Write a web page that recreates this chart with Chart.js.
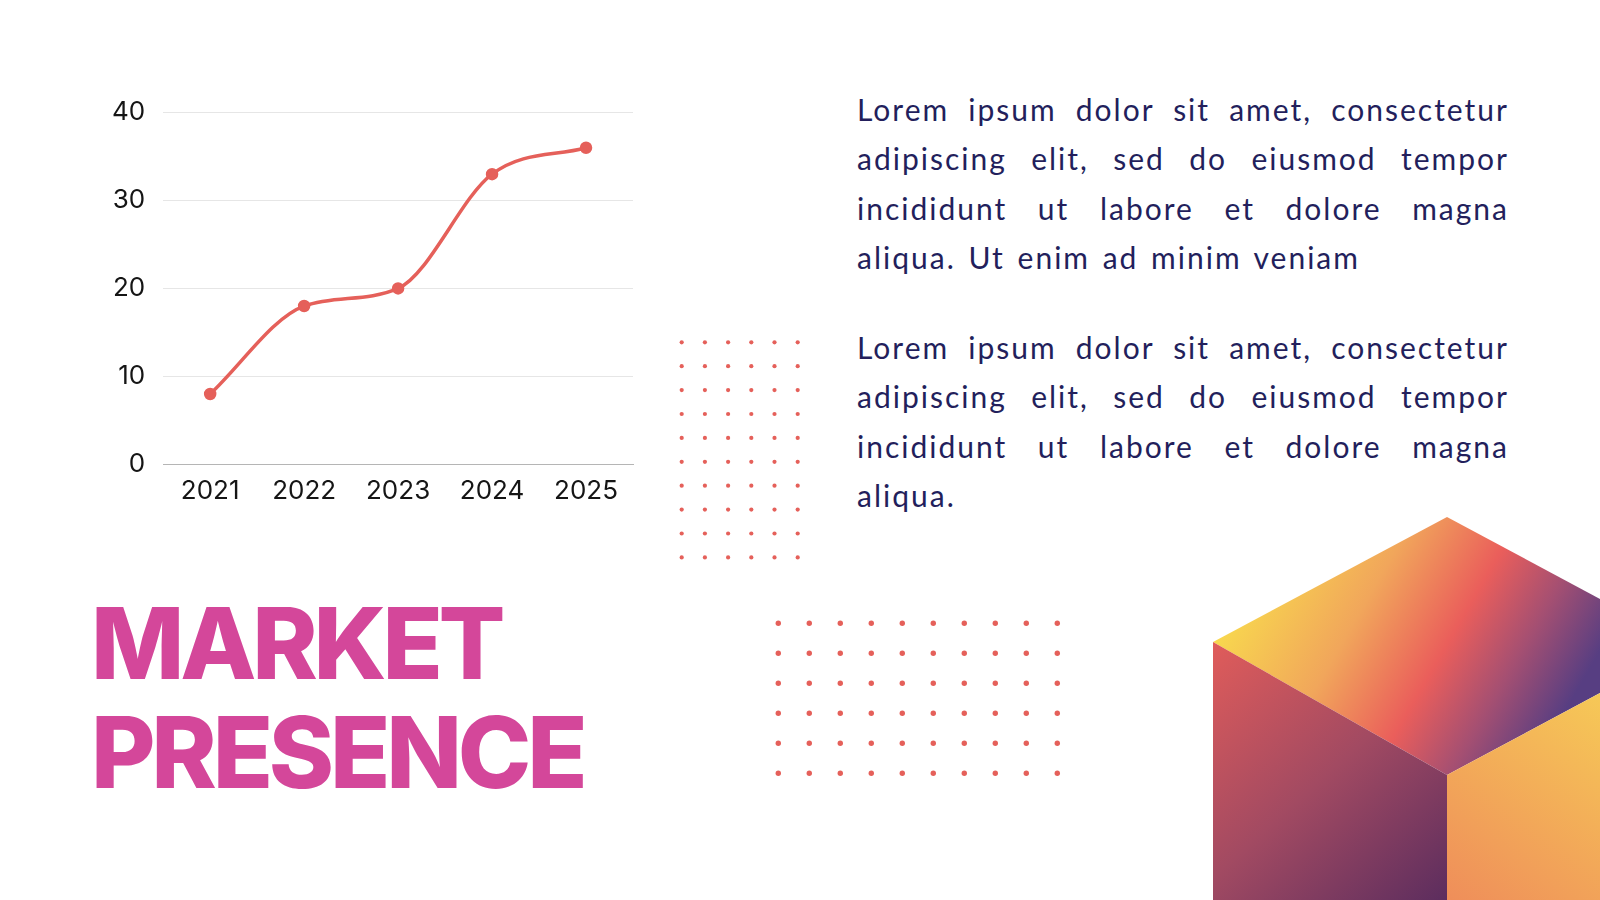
<!DOCTYPE html>
<html>
<head>
<meta charset="utf-8">
<script src="https://cdn.jsdelivr.net/npm/chart.js@4.4.1/dist/chart.umd.min.js"></script>
<style>
html,body{margin:0;padding:0;width:1600px;height:900px;overflow:hidden;background:#ffffff;}
#chartBox{position:absolute;left:79px;top:78.5px;width:566px;height:438.5px;}
#deco{position:absolute;left:0;top:0;width:1600px;height:900px;}
.para{position:absolute;left:857px;width:652px;font-family:Lato,"Noto Sans",sans-serif;font-size:30px;line-height:49.3px;color:#231F5C;letter-spacing:2px;word-spacing:3px;}
.para span{display:block;text-align:justify;text-align-last:justify;white-space:nowrap;}
.para span.last{text-align-last:left;}
#p1{top:85px;}
#p2{top:323px;}
.title{position:absolute;left:91px;top:589px;font-family:Inter,sans-serif;font-weight:800;font-size:99px;line-height:109px;color:#D4479A;letter-spacing:-4.2px;white-space:nowrap;}
</style>
</head>
<body>
<svg id="deco" xmlns="http://www.w3.org/2000/svg" width="1600" height="900">
  <defs>
    <linearGradient id="gTop" gradientUnits="userSpaceOnUse" x1="1213" y1="642" x2="1507" y2="812">
      <stop offset="0" stop-color="#F8D84E"/>
      <stop offset="0.33" stop-color="#F1A65B"/>
      <stop offset="0.6" stop-color="#EA5E5B"/>
      <stop offset="0.8" stop-color="#A44F72"/>
      <stop offset="1" stop-color="#573E82"/>
    </linearGradient>
    <linearGradient id="gLeft" gradientUnits="userSpaceOnUse" x1="1213" y1="642" x2="1447" y2="900">
      <stop offset="0" stop-color="#E05C5A"/>
      <stop offset="0.5" stop-color="#A24A62"/>
      <stop offset="1" stop-color="#5C2D5E"/>
    </linearGradient>
    <linearGradient id="gRight" gradientUnits="userSpaceOnUse" x1="1600" y1="690" x2="1447" y2="900">
      <stop offset="0" stop-color="#F6C957"/>
      <stop offset="1" stop-color="#EF8E5A"/>
    </linearGradient>
  </defs>
  <g id="cube">
    <polygon points="1213,642 1447,517 1600,599 1600,693 1447,775" fill="url(#gTop)"/>
    <polygon points="1213,642 1447,775 1447,900 1213,900" fill="url(#gLeft)"/>
    <polygon points="1447,775 1600,693 1600,900 1447,900" fill="url(#gRight)"/>
  </g>
  <g id="dots"></g>
</svg>

<div id="chartBox"><canvas id="c"></canvas></div>

<div class="para" id="p1">
  <span>Lorem ipsum dolor sit amet, consectetur</span>
  <span>adipiscing elit, sed do eiusmod tempor</span>
  <span>incididunt ut labore et dolore magna</span>
  <span class="last">aliqua. Ut enim ad minim veniam</span>
</div>
<div class="para" id="p2">
  <span>Lorem ipsum dolor sit amet, consectetur</span>
  <span>adipiscing elit, sed do eiusmod tempor</span>
  <span>incididunt ut labore et dolore magna</span>
  <span class="last">aliqua.</span>
</div>

<div class="title">MARKET<br>PRESENCE</div>

<script>
// ---- chart data ----
const years = ['2021', '2022', '2023', '2024', '2025'];
const presence = [8, 18, 20, 33, 36];
const yMin = 0;
const yMax = 40;
const yStep = 10;

// ---- decorative dot grids ----
(function () {
  const g = document.getElementById('dots');
  const ns = 'http://www.w3.org/2000/svg';
  function grid(x0, y0, dx, dy, cols, rows, r) {
    for (let j = 0; j < rows; j++) {
      for (let i = 0; i < cols; i++) {
        const c = document.createElementNS(ns, 'circle');
        c.setAttribute('cx', x0 + i * dx);
        c.setAttribute('cy', y0 + j * dy);
        c.setAttribute('r', r);
        c.setAttribute('fill', '#E5605A');
        g.appendChild(c);
      }
    }
  }
  grid(681.7, 342.3, 23.2, 23.9, 6, 10, 2.1);
  grid(778.3, 623.3, 31, 30, 10, 6, 2.7);
})();

// ---- chart ----
const tickFont = { family: 'Inter, sans-serif', size: 26, weight: '400' };
new Chart(document.getElementById('c'), {
  type: 'line',
  data: {
    labels: years,
    datasets: [{
      data: presence,
      borderColor: '#E5605A',
      backgroundColor: '#E5605A',
      pointBackgroundColor: '#E5605A',
      pointBorderColor: '#E5605A',
      borderWidth: 3.5,
      pointRadius: 4.5,
      pointHoverRadius: 4.5,
      cubicInterpolationMode: 'monotone',
      fill: false
    }]
  },
  options: {
    responsive: true,
    maintainAspectRatio: false,
    animation: false,
    layout: { padding: { left: 15, right: 12, top: 14, bottom: 8 } },
    plugins: { legend: { display: false }, tooltip: { enabled: false } },
    scales: {
      x: {
        offset: true,
        grid: { display: false },
        border: { display: true, color: '#b5b5b5', width: 1 },
        ticks: { font: tickFont, color: '#151515', padding: 3, maxRotation: 0 }
      },
      y: {
        min: yMin,
        max: yMax,
        ticks: { stepSize: yStep, font: tickFont, color: '#151515', padding: 18 },
        grid: { color: '#e6e6e6', lineWidth: 1, drawTicks: false },
        border: { display: false }
      }
    }
  }
});
</script>
</body>
</html>
